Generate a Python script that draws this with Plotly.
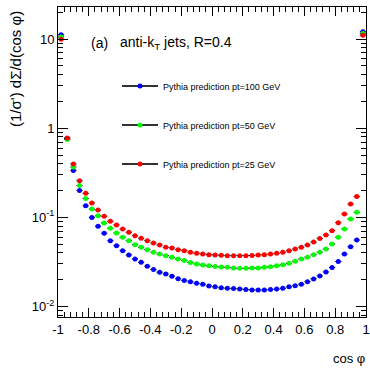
import plotly.graph_objects as go

cos_phi = [-0.98, -0.94, -0.90, -0.86, -0.82, -0.78, -0.74, -0.70, -0.66, -0.62,
           -0.58, -0.54, -0.50, -0.46, -0.42, -0.38, -0.34, -0.30, -0.26, -0.22,
           -0.18, -0.14, -0.10, -0.06, -0.02, 0.02, 0.06, 0.10, 0.14, 0.18,
           0.22, 0.26, 0.30, 0.34, 0.38, 0.42, 0.46, 0.50, 0.54, 0.58,
           0.62, 0.66, 0.70, 0.74, 0.78, 0.82, 0.86, 0.90, 0.94, 0.98]
half_bin = [0.02] * 50

pt100 = [11.2, 0.77, 0.336, 0.200, 0.135, 0.100, 0.0795, 0.0663, 0.0548, 0.0481,
         0.0423, 0.0379, 0.0341, 0.0313, 0.0283, 0.0260, 0.0243, 0.0231, 0.0219, 0.0205,
         0.0196, 0.0189, 0.0182, 0.0178, 0.0170, 0.0166, 0.0162, 0.0160, 0.0159, 0.0157,
         0.0155, 0.0153, 0.0153, 0.0153, 0.0155, 0.0157, 0.0160, 0.0166, 0.0171, 0.0178,
         0.0190, 0.0204, 0.0220, 0.0244, 0.0274, 0.0320, 0.0388, 0.0469, 0.0557, 12.1]
pt50 = [10.6, 0.75, 0.368, 0.228, 0.163, 0.124, 0.104, 0.0865, 0.0755, 0.0668,
        0.0598, 0.0548, 0.0494, 0.0462, 0.0434, 0.0406, 0.0388, 0.0372, 0.0356, 0.0341,
        0.0328, 0.0312, 0.0300, 0.0292, 0.0287, 0.0281, 0.0277, 0.0275, 0.0270, 0.0268,
        0.0268, 0.0270, 0.0270, 0.0275, 0.0280, 0.0287, 0.0294, 0.0305, 0.0322, 0.0341,
        0.0358, 0.0380, 0.0407, 0.0442, 0.0503, 0.0598, 0.0741, 0.0960, 0.114, 11.6]
pt25 = [10.0, 0.78, 0.397, 0.258, 0.186, 0.145, 0.121, 0.103, 0.0904, 0.0822,
        0.0741, 0.0681, 0.0623, 0.0582, 0.0548, 0.0516, 0.0490, 0.0462, 0.0454, 0.0434,
        0.0423, 0.0406, 0.0395, 0.0388, 0.0381, 0.0378, 0.0376, 0.0372, 0.0372, 0.0372,
        0.0372, 0.0374, 0.0378, 0.0381, 0.0388, 0.0395, 0.0406, 0.0423, 0.0442, 0.0463,
        0.0490, 0.0528, 0.0580, 0.0634, 0.0710, 0.0872, 0.109, 0.141, 0.171, 11.1]

series_names = ["Pythia prediction pt=100 GeV", "Pythia prediction pt=50 GeV",
                "Pythia prediction pt=25 GeV"]
series_colors = ["#0000ff", "#00ff00", "#ff0000"]
series_values = [pt100, pt50, pt25]
legend_ids = ["legend", "legend2", "legend3"]

x_ticks = [-1, -0.8, -0.6, -0.4, -0.2, 0, 0.2, 0.4, 0.6, 0.8, 1]
x_ticktext = ["-1", "-0.8", "-0.6", "-0.4", "-0.2", "0", "0.2", "0.4", "0.6", "0.8", "1"]
y_ticks = [0.01, 0.1, 1, 10]
y_ticktext = ["10<sup>-2</sup>", "10<sup>-1</sup>", "1", "10"]

FONT = "Liberation Sans, Arial, Helvetica, sans-serif"

W, H = 370, 368
ML, MR, MT, MB = 58, 4, 7, 51
PW, PH = W - ML - MR, H - MT - MB


def px_x(px):
    return (px - ML) / PW


def px_y(py):
    return (H - MB - py) / PH


fig = go.Figure()
for name, color, vals, lg in zip(series_names, series_colors, series_values, legend_ids):
    fig.add_trace(go.Scatter(
        x=cos_phi, y=vals, mode="markers", showlegend=False, cliponaxis=False,
        marker=dict(color=color, size=5, symbol="circle"),
        error_x=dict(type="data", array=half_bin, color="black", thickness=1, width=0),
    ))
for name, color, lg in zip(series_names, series_colors, legend_ids):
    fig.add_trace(go.Scatter(
        x=[None], y=[None], mode="lines+markers", name=name, legend=lg,
        line=dict(color="#333333", width=2),
        marker=dict(color=color, size=5),
    ))

legend_common = dict(xanchor="left", yanchor="middle", bgcolor="rgba(0,0,0,0)",
                     font=dict(family=FONT, size=9, color="black"), itemwidth=36)
legend_y_px = [86, 125, 164]
fig.update_layout(
    legend=dict(x=px_x(117), y=px_y(legend_y_px[0]), **legend_common),
    legend2=dict(x=px_x(117), y=px_y(legend_y_px[1]), **legend_common),
    legend3=dict(x=px_x(117), y=px_y(legend_y_px[2]), **legend_common),
)

fig.update_xaxes(
    range=[-1, 1], tickvals=x_ticks, ticktext=x_ticktext,
    ticks="inside", ticklen=9, tickwidth=1, tickcolor="black",
    minor=dict(ticks="inside", ticklen=5, dtick=0.04, tickcolor="black", tickwidth=1),
    showline=True, linecolor="black", linewidth=1, mirror="allticks",
    showgrid=False, zeroline=False, automargin=False,
    tickfont=dict(family=FONT, size=13, color="black"),
)
fig.update_yaxes(
    type="log", range=[-2.118, 1.361], tickvals=y_ticks, ticktext=y_ticktext,
    ticks="inside", ticklen=10, tickwidth=1, tickcolor="black",
    minor=dict(ticks="inside", ticklen=5, dtick="D1", tickcolor="black", tickwidth=1),
    showline=True, linecolor="black", linewidth=1, mirror="allticks",
    showgrid=False, zeroline=False, automargin=False,
    tickfont=dict(family=FONT, size=13, color="black"),
)

fig.update_layout(
    width=W, height=H,
    margin=dict(l=ML, r=MR, t=MT, b=MB, pad=0),
    paper_bgcolor="white", plot_bgcolor="white",
    font=dict(family=FONT, color="black"),
    annotations=[
        dict(text="(a)", x=px_x(89), y=px_y(43), xref="paper", yref="paper",
             xanchor="left", yanchor="middle", showarrow=False,
             font=dict(family=FONT, size=14, color="black")),
        dict(text="anti-k<sub>T</sub> jets, R=0.4", x=px_x(118), y=px_y(43),
             xref="paper", yref="paper", xanchor="left", yanchor="middle",
             showarrow=False, font=dict(family=FONT, size=14, color="black")),
        dict(text="(1/σ') dΣ/d(cos φ)", x=px_x(16), y=px_y(69), xref="paper",
             yref="paper", xanchor="center", yanchor="middle", textangle=-90,
             showarrow=False, font=dict(family=FONT, size=15, color="black")),
        dict(text="cos φ", x=px_x(367), y=px_y(358), xref="paper", yref="paper",
             xanchor="right", yanchor="middle", showarrow=False,
             font=dict(family=FONT, size=13, color="black")),
    ],
)

fig.write_html("out.html", config={"displayModeBar": False},
               post_script="document.body.style.margin='0';")
